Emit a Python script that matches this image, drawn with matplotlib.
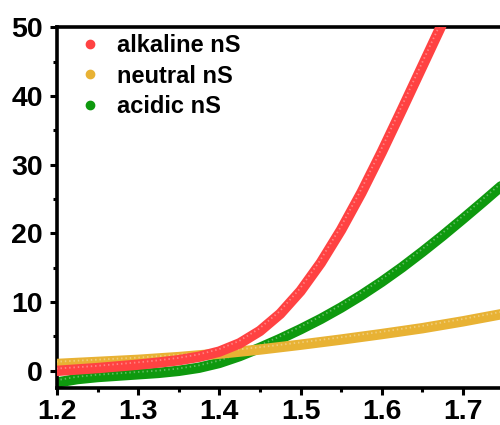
import numpy as np
import matplotlib
matplotlib.use("Agg")
import matplotlib.pyplot as plt
import matplotlib.transforms as mtransforms
from matplotlib.lines import Line2D

plt.rcParams['font.family'] = ['Liberation Sans', 'DejaVu Sans']
plt.rcParams['font.weight'] = 'bold'

# potential (x) values
x_fine = [1.200, 1.225, 1.250, 1.275, 1.300, 1.325, 1.350, 1.375, 1.400,
          1.425, 1.450, 1.475, 1.500, 1.525, 1.550, 1.575, 1.600, 1.625,
          1.650, 1.675, 1.700]
alkaline = [0.0, 0.2, 0.4, 0.65, 0.9, 1.2, 1.55, 2.05, 2.8,
            4.0, 5.8, 8.3, 11.6, 15.7, 20.5, 25.9, 31.8, 38.0,
            44.3, 50.6, 57.0]
acidic = [-1.7, -1.2, -0.9, -0.7, -0.5, -0.3, 0.0, 0.45, 1.15,
          2.15, 3.35, 4.65, 6.05, 7.55, 9.2, 11.0, 12.95, 15.05,
          17.3, 19.65, 22.1]
x_acid_end = [1.725, 1.750, 1.775]
acidic_end = [24.6, 27.15, 29.7]
x_coarse = [1.20, 1.25, 1.30, 1.35, 1.40, 1.45, 1.50, 1.55, 1.60, 1.65, 1.70, 1.75, 1.80]
neutral = [1.0, 1.3, 1.6, 2.0, 2.5, 3.1, 3.8, 4.55, 5.35, 6.2, 7.2, 8.3, 9.4]

c_red = '#ff4242'
c_yel = '#e8b234'
c_grn = '#0e990e'

fig = plt.figure(figsize=(5, 4.25), dpi=100)
ax = fig.add_axes([0.114, 0.087, 0.974, 0.849])

shine = mtransforms.offset_copy(ax.transData, fig=fig, x=-0.6, y=1.6, units='points')

lw = 7.5
series = [(x_fine + x_acid_end, acidic + acidic_end, c_grn, 2),
          (x_coarse, neutral, c_yel, 3),
          (x_fine, alkaline, c_red, 4)]
for xs, ys, c, z in series:
    ax.plot(xs, ys, color=c, lw=lw, solid_capstyle='round', zorder=z)
    # faint highlight stripe suggesting the sphere markers of the original
    ax.plot(xs, ys, color='white', lw=1.3, alpha=0.35, dashes=(0.8, 1.6),
            transform=shine, zorder=z + 0.5)

ax.set_xlim(1.2, 1.8)
ax.set_ylim(-2.5, 50)
ax.set_xticks([1.2, 1.3, 1.4, 1.5, 1.6, 1.7])
ax.set_xticks([1.25, 1.35, 1.45, 1.55, 1.65, 1.75], minor=True)
ax.set_yticks([0, 10, 20, 30, 40, 50])
ax.set_yticks([5, 15, 25, 35, 45], minor=True)

for s in ax.spines.values():
    s.set_linewidth(2.6)
ax.tick_params(which='major', direction='out', length=5, width=2.2,
               labelsize=20.5, pad=5)
ax.tick_params(axis='x', which='major', pad=3)
ax.tick_params(which='minor', direction='out', length=3, width=2.2)

handles = [Line2D([], [], ls='none', marker='o', ms=6, color=c, mec=c)
           for c in (c_red, c_yel, c_grn)]
ax.legend(handles, ['alkaline nS', 'neutral nS', 'acidic nS'],
          loc='upper left', bbox_to_anchor=(0.0, 1.04), frameon=False,
          prop={'size': 17, 'weight': 'bold'}, handlelength=1.0,
          handletextpad=0.65, labelspacing=0.32, borderaxespad=0.5)

fig.savefig('out.png', dpi=100)
